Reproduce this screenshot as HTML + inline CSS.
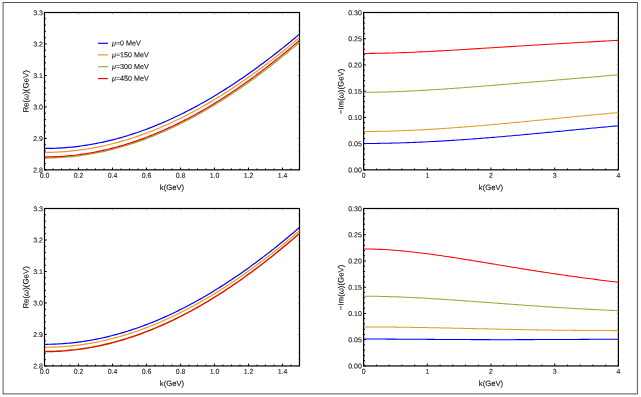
<!DOCTYPE html>
<html><head><meta charset="utf-8"><title>plots</title>
<style>html,body{margin:0;padding:0;background:#fff;}svg{display:block;will-change:transform;} text{text-rendering:geometricPrecision;stroke:#222;stroke-width:0.12px;}</style></head>
<body>
<svg width="641" height="397" viewBox="0 0 641 397" font-family="Liberation Sans, sans-serif">
<rect x="0" y="0" width="641" height="397" fill="#fff"/>
<rect x="3.1" y="2.5" width="634.3" height="391.4" fill="none" stroke="#555" stroke-width="1"/>
<clipPath id="c1"><rect x="45.05" y="12.5" width="255.05" height="157.0"/></clipPath>
<path d="M44.50,169.85v-2.3M53.00,169.85v-1.4M61.50,169.85v-1.4M70.00,169.85v-1.4M78.50,169.85v-2.3M87.00,169.85v-1.4M95.50,169.85v-1.4M104.00,169.85v-1.4M112.50,169.85v-2.3M121.00,169.85v-1.4M129.50,169.85v-1.4M138.00,169.85v-1.4M146.50,169.85v-2.3M155.00,169.85v-1.4M163.50,169.85v-1.4M172.00,169.85v-1.4M180.50,169.85v-2.3M189.00,169.85v-1.4M197.50,169.85v-1.4M206.00,169.85v-1.4M214.50,169.85v-2.3M223.00,169.85v-1.4M231.50,169.85v-1.4M240.00,169.85v-1.4M248.50,169.85v-2.3M257.00,169.85v-1.4M265.50,169.85v-1.4M274.00,169.85v-1.4M282.50,169.85v-2.3M291.00,169.85v-1.4M299.50,169.85v-1.4M44.5,169.85h2.3M44.5,163.56h1.4M44.5,157.26h1.4M44.5,150.97h1.4M44.5,144.67h1.4M44.5,138.38h2.3M44.5,132.09h1.4M44.5,125.79h1.4M44.5,119.50h1.4M44.5,113.20h1.4M44.5,106.91h2.3M44.5,100.62h1.4M44.5,94.32h1.4M44.5,88.03h1.4M44.5,81.73h1.4M44.5,75.44h2.3M44.5,69.15h1.4M44.5,62.85h1.4M44.5,56.56h1.4M44.5,50.26h1.4M44.5,43.97h2.3M44.5,37.68h1.4M44.5,31.38h1.4M44.5,25.09h1.4M44.5,18.79h1.4M44.5,12.50h2.3" stroke="#000" stroke-width="1.0" fill="none"/>
<path d="M44.50,12.5v1.7249999999999999M53.00,12.5v1.0499999999999998M61.50,12.5v1.0499999999999998M70.00,12.5v1.0499999999999998M78.50,12.5v1.7249999999999999M87.00,12.5v1.0499999999999998M95.50,12.5v1.0499999999999998M104.00,12.5v1.0499999999999998M112.50,12.5v1.7249999999999999M121.00,12.5v1.0499999999999998M129.50,12.5v1.0499999999999998M138.00,12.5v1.0499999999999998M146.50,12.5v1.7249999999999999M155.00,12.5v1.0499999999999998M163.50,12.5v1.0499999999999998M172.00,12.5v1.0499999999999998M180.50,12.5v1.7249999999999999M189.00,12.5v1.0499999999999998M197.50,12.5v1.0499999999999998M206.00,12.5v1.0499999999999998M214.50,12.5v1.7249999999999999M223.00,12.5v1.0499999999999998M231.50,12.5v1.0499999999999998M240.00,12.5v1.0499999999999998M248.50,12.5v1.7249999999999999M257.00,12.5v1.0499999999999998M265.50,12.5v1.0499999999999998M274.00,12.5v1.0499999999999998M282.50,12.5v1.7249999999999999M291.00,12.5v1.0499999999999998M299.50,12.5v1.0499999999999998M299.5,169.85h-1.7249999999999999M299.5,163.56h-1.0499999999999998M299.5,157.26h-1.0499999999999998M299.5,150.97h-1.0499999999999998M299.5,144.67h-1.0499999999999998M299.5,138.38h-1.7249999999999999M299.5,132.09h-1.0499999999999998M299.5,125.79h-1.0499999999999998M299.5,119.50h-1.0499999999999998M299.5,113.20h-1.0499999999999998M299.5,106.91h-1.7249999999999999M299.5,100.62h-1.0499999999999998M299.5,94.32h-1.0499999999999998M299.5,88.03h-1.0499999999999998M299.5,81.73h-1.0499999999999998M299.5,75.44h-1.7249999999999999M299.5,69.15h-1.0499999999999998M299.5,62.85h-1.0499999999999998M299.5,56.56h-1.0499999999999998M299.5,50.26h-1.0499999999999998M299.5,43.97h-1.7249999999999999M299.5,37.68h-1.0499999999999998M299.5,31.38h-1.0499999999999998M299.5,25.09h-1.0499999999999998M299.5,18.79h-1.0499999999999998M299.5,12.50h-1.7249999999999999" stroke="#000" stroke-opacity="0.35" stroke-width="0.8" fill="none"/>
<rect x="44.5" y="12.5" width="255.0" height="157.35" fill="none" stroke="#000" stroke-width="1.2"/>
<g clip-path="url(#c1)" fill="none" stroke-width="1.2" stroke-linejoin="round">
<polyline stroke="#0000ff" points="44.50,148.46 46.62,148.45 48.75,148.43 50.88,148.39 53.00,148.33 55.12,148.25 57.25,148.16 59.38,148.05 61.50,147.92 63.62,147.78 65.75,147.62 67.88,147.44 70.00,147.25 72.12,147.04 74.25,146.81 76.38,146.56 78.50,146.30 80.62,146.02 82.75,145.73 84.88,145.42 87.00,145.09 89.12,144.75 91.25,144.38 93.38,144.01 95.50,143.61 97.62,143.20 99.75,142.77 101.88,142.33 104.00,141.87 106.12,141.39 108.25,140.89 110.38,140.38 112.50,139.86 114.62,139.31 116.75,138.75 118.88,138.18 121.00,137.58 123.12,136.97 125.25,136.35 127.38,135.71 129.50,135.05 131.62,134.38 133.75,133.69 135.88,132.98 138.00,132.26 140.12,131.52 142.25,130.77 144.38,130.00 146.50,129.21 148.62,128.41 150.75,127.59 152.88,126.76 155.00,125.91 157.12,125.04 159.25,124.16 161.38,123.27 163.50,122.36 165.62,121.43 167.75,120.49 169.88,119.53 172.00,118.56 174.12,117.57 176.25,116.56 178.38,115.54 180.50,114.51 182.62,113.46 184.75,112.40 186.88,111.32 189.00,110.22 191.12,109.11 193.25,107.99 195.38,106.85 197.50,105.70 199.63,104.53 201.75,103.35 203.88,102.15 206.00,100.94 208.12,99.71 210.25,98.47 212.38,97.21 214.50,95.94 216.62,94.66 218.75,93.36 220.88,92.05 223.00,90.72 225.12,89.38 227.25,88.03 229.38,86.66 231.50,85.28 233.62,83.88 235.75,82.47 237.88,81.05 240.00,79.61 242.13,78.16 244.25,76.70 246.38,75.22 248.50,73.73 250.63,72.23 252.75,70.71 254.88,69.18 257.00,67.64 259.12,66.08 261.25,64.51 263.38,62.93 265.50,61.34 267.62,59.73 269.75,58.11 271.88,56.47 274.00,54.83 276.12,53.17 278.25,51.50 280.38,49.81 282.50,48.12 284.62,46.41 286.75,44.69 288.88,42.96 291.00,41.21 293.12,39.46 295.25,37.69 297.38,35.91 299.50,34.11"/>
<polyline stroke="#e39c24" points="44.50,152.39 46.62,152.38 48.75,152.35 50.88,152.31 53.00,152.25 55.12,152.17 57.25,152.08 59.38,151.97 61.50,151.84 63.62,151.70 65.75,151.54 67.88,151.36 70.00,151.17 72.12,150.95 74.25,150.72 76.38,150.48 78.50,150.22 80.62,149.94 82.75,149.64 84.88,149.33 87.00,149.00 89.12,148.65 91.25,148.29 93.38,147.91 95.50,147.51 97.62,147.10 99.75,146.67 101.88,146.22 104.00,145.75 106.12,145.27 108.25,144.78 110.38,144.26 112.50,143.73 114.62,143.19 116.75,142.62 118.88,142.05 121.00,141.45 123.12,140.84 125.25,140.21 127.38,139.56 129.50,138.90 131.62,138.23 133.75,137.53 135.88,136.82 138.00,136.10 140.12,135.36 142.25,134.60 144.38,133.82 146.50,133.03 148.62,132.23 150.75,131.41 152.88,130.57 155.00,129.71 157.12,128.85 159.25,127.96 161.38,127.06 163.50,126.14 165.62,125.21 167.75,124.27 169.88,123.30 172.00,122.32 174.12,121.33 176.25,120.32 178.38,119.30 180.50,118.26 182.62,117.20 184.75,116.13 186.88,115.05 189.00,113.95 191.12,112.84 193.25,111.71 195.38,110.56 197.50,109.40 199.63,108.23 201.75,107.04 203.88,105.84 206.00,104.62 208.12,103.38 210.25,102.14 212.38,100.88 214.50,99.60 216.62,98.31 218.75,97.01 220.88,95.69 223.00,94.35 225.12,93.01 227.25,91.65 229.38,90.27 231.50,88.88 233.62,87.48 235.75,86.07 237.88,84.64 240.00,83.19 242.13,81.73 244.25,80.26 246.38,78.78 248.50,77.28 250.63,75.77 252.75,74.25 254.88,72.71 257.00,71.16 259.12,69.60 261.25,68.02 263.38,66.43 265.50,64.83 267.62,63.21 269.75,61.58 271.88,59.94 274.00,58.29 276.12,56.62 278.25,54.95 280.38,53.25 282.50,51.55 284.62,49.84 286.75,48.11 288.88,46.37 291.00,44.61 293.12,42.85 295.25,41.07 297.38,39.29 299.50,37.48"/>
<polyline stroke="#8fb032" points="44.50,158.04 46.62,158.03 48.75,158.00 50.88,157.96 53.00,157.90 55.12,157.83 57.25,157.73 59.38,157.62 61.50,157.49 63.62,157.35 65.75,157.18 67.88,157.01 70.00,156.81 72.12,156.60 74.25,156.37 76.38,156.12 78.50,155.85 80.62,155.57 82.75,155.27 84.88,154.96 87.00,154.63 89.12,154.28 91.25,153.91 93.38,153.53 95.50,153.13 97.62,152.71 99.75,152.28 101.88,151.83 104.00,151.37 106.12,150.88 108.25,150.38 110.38,149.87 112.50,149.33 114.62,148.78 116.75,148.22 118.88,147.63 121.00,147.03 123.12,146.42 125.25,145.78 127.38,145.14 129.50,144.47 131.62,143.79 133.75,143.09 135.88,142.38 138.00,141.65 140.12,140.90 142.25,140.14 144.38,139.36 146.50,138.57 148.62,137.75 150.75,136.93 152.88,136.08 155.00,135.23 157.12,134.35 159.25,133.46 161.38,132.56 163.50,131.63 165.62,130.70 167.75,129.74 169.88,128.78 172.00,127.79 174.12,126.79 176.25,125.78 178.38,124.75 180.50,123.70 182.62,122.64 184.75,121.57 186.88,120.47 189.00,119.37 191.12,118.25 193.25,117.11 195.38,115.96 197.50,114.79 199.63,113.61 201.75,112.42 203.88,111.21 206.00,109.98 208.12,108.74 210.25,107.49 212.38,106.22 214.50,104.94 216.62,103.64 218.75,102.33 220.88,101.00 223.00,99.66 225.12,98.31 227.25,96.94 229.38,95.56 231.50,94.16 233.62,92.75 235.75,91.33 237.88,89.89 240.00,88.44 242.13,86.97 244.25,85.49 246.38,84.00 248.50,82.50 250.63,80.98 252.75,79.44 254.88,77.90 257.00,76.34 259.12,74.77 261.25,73.18 263.38,71.58 265.50,69.97 267.62,68.35 269.75,66.71 271.88,65.06 274.00,63.40 276.12,61.73 278.25,60.04 280.38,58.34 282.50,56.63 284.62,54.90 286.75,53.17 288.88,51.42 291.00,49.66 293.12,47.88 295.25,46.10 297.38,44.30 299.50,42.49"/>
<polyline stroke="#ff0000" points="44.50,156.94 46.62,156.93 48.75,156.91 50.88,156.86 53.00,156.80 55.12,156.72 57.25,156.63 59.38,156.52 61.50,156.39 63.62,156.24 65.75,156.08 67.88,155.90 70.00,155.70 72.12,155.48 74.25,155.25 76.38,155.00 78.50,154.74 80.62,154.45 82.75,154.15 84.88,153.83 87.00,153.50 89.12,153.15 91.25,152.78 93.38,152.39 95.50,151.99 97.62,151.57 99.75,151.13 101.88,150.68 104.00,150.21 106.12,149.72 108.25,149.22 110.38,148.69 112.50,148.16 114.62,147.60 116.75,147.03 118.88,146.44 121.00,145.84 123.12,145.22 125.25,144.58 127.38,143.92 129.50,143.25 131.62,142.56 133.75,141.86 135.88,141.14 138.00,140.40 140.12,139.65 142.25,138.88 144.38,138.10 146.50,137.29 148.62,136.48 150.75,135.64 152.88,134.79 155.00,133.93 157.12,133.05 159.25,132.15 161.38,131.23 163.50,130.30 165.62,129.36 167.75,128.40 169.88,127.42 172.00,126.43 174.12,125.42 176.25,124.40 178.38,123.36 180.50,122.30 182.62,121.23 184.75,120.15 186.88,119.05 189.00,117.93 191.12,116.80 193.25,115.66 195.38,114.49 197.50,113.32 199.63,112.13 201.75,110.92 203.88,109.70 206.00,108.47 208.12,107.22 210.25,105.95 212.38,104.67 214.50,103.38 216.62,102.07 218.75,100.75 220.88,99.41 223.00,98.06 225.12,96.69 227.25,95.31 229.38,93.92 231.50,92.51 233.62,91.09 235.75,89.65 237.88,88.20 240.00,86.74 242.13,85.26 244.25,83.77 246.38,82.27 248.50,80.75 250.63,79.22 252.75,77.67 254.88,76.11 257.00,74.54 259.12,72.96 261.25,71.36 263.38,69.75 265.50,68.12 267.62,66.49 269.75,64.84 271.88,63.17 274.00,61.50 276.12,59.81 278.25,58.11 280.38,56.40 282.50,54.67 284.62,52.93 286.75,51.18 288.88,49.42 291.00,47.64 293.12,45.85 295.25,44.05 297.38,42.24 299.50,40.42"/>
</g>
<g font-size="7.0" fill="#1a1a1a">
<text x="44.50" y="177.75" transform="rotate(0.05 44.50 177.75)" text-anchor="middle">0.0</text>
<text x="78.50" y="177.75" transform="rotate(0.05 78.50 177.75)" text-anchor="middle">0.2</text>
<text x="112.50" y="177.75" transform="rotate(0.05 112.50 177.75)" text-anchor="middle">0.4</text>
<text x="146.50" y="177.75" transform="rotate(0.05 146.50 177.75)" text-anchor="middle">0.6</text>
<text x="180.50" y="177.75" transform="rotate(0.05 180.50 177.75)" text-anchor="middle">0.8</text>
<text x="214.50" y="177.75" transform="rotate(0.05 214.50 177.75)" text-anchor="middle">1.0</text>
<text x="248.50" y="177.75" transform="rotate(0.05 248.50 177.75)" text-anchor="middle">1.2</text>
<text x="282.50" y="177.75" transform="rotate(0.05 282.50 177.75)" text-anchor="middle">1.4</text>
<text x="42.90" y="172.50" transform="rotate(0.05 42.90 172.50)" text-anchor="end">2.8</text>
<text x="42.90" y="141.03" transform="rotate(0.05 42.90 141.03)" text-anchor="end">2.9</text>
<text x="42.90" y="109.56" transform="rotate(0.05 42.90 109.56)" text-anchor="end">3.0</text>
<text x="42.90" y="78.09" transform="rotate(0.05 42.90 78.09)" text-anchor="end">3.1</text>
<text x="42.90" y="46.62" transform="rotate(0.05 42.90 46.62)" text-anchor="end">3.2</text>
<text x="42.90" y="15.15" transform="rotate(0.05 42.90 15.15)" text-anchor="end">3.3</text>
</g>
<text x="172.00" y="189.90" transform="rotate(0.05 172.00 189.90)" text-anchor="middle" font-size="7.7" fill="#111">k(GeV)</text>
<text transform="translate(28.5,91.40) rotate(-89.95)" text-anchor="middle" font-size="7.85" fill="#111">Re(<tspan font-style="italic">ω</tspan>)(GeV)</text>
<clipPath id="c2"><rect x="364.2" y="12.5" width="254.8" height="157.0"/></clipPath>
<path d="M363.65,169.85v-2.3M376.39,169.85v-1.4M389.12,169.85v-1.4M401.86,169.85v-1.4M414.60,169.85v-1.4M427.34,169.85v-2.3M440.07,169.85v-1.4M452.81,169.85v-1.4M465.55,169.85v-1.4M478.29,169.85v-1.4M491.02,169.85v-2.3M503.76,169.85v-1.4M516.50,169.85v-1.4M529.24,169.85v-1.4M541.98,169.85v-1.4M554.71,169.85v-2.3M567.45,169.85v-1.4M580.19,169.85v-1.4M592.92,169.85v-1.4M605.66,169.85v-1.4M618.40,169.85v-2.3M363.65,169.85h2.3M363.65,164.60h1.4M363.65,159.36h1.4M363.65,154.12h1.4M363.65,148.87h1.4M363.65,143.62h2.3M363.65,138.38h1.4M363.65,133.13h1.4M363.65,127.89h1.4M363.65,122.64h1.4M363.65,117.40h2.3M363.65,112.16h1.4M363.65,106.91h1.4M363.65,101.66h1.4M363.65,96.42h1.4M363.65,91.17h2.3M363.65,85.93h1.4M363.65,80.68h1.4M363.65,75.44h1.4M363.65,70.19h1.4M363.65,64.95h2.3M363.65,59.70h1.4M363.65,54.46h1.4M363.65,49.21h1.4M363.65,43.97h1.4M363.65,38.72h2.3M363.65,33.48h1.4M363.65,28.23h1.4M363.65,22.99h1.4M363.65,17.75h1.4M363.65,12.50h2.3" stroke="#000" stroke-width="1.0" fill="none"/>
<path d="M363.65,12.5v1.7249999999999999M376.39,12.5v1.0499999999999998M389.12,12.5v1.0499999999999998M401.86,12.5v1.0499999999999998M414.60,12.5v1.0499999999999998M427.34,12.5v1.7249999999999999M440.07,12.5v1.0499999999999998M452.81,12.5v1.0499999999999998M465.55,12.5v1.0499999999999998M478.29,12.5v1.0499999999999998M491.02,12.5v1.7249999999999999M503.76,12.5v1.0499999999999998M516.50,12.5v1.0499999999999998M529.24,12.5v1.0499999999999998M541.98,12.5v1.0499999999999998M554.71,12.5v1.7249999999999999M567.45,12.5v1.0499999999999998M580.19,12.5v1.0499999999999998M592.92,12.5v1.0499999999999998M605.66,12.5v1.0499999999999998M618.40,12.5v1.7249999999999999M618.4,169.85h-1.7249999999999999M618.4,164.60h-1.0499999999999998M618.4,159.36h-1.0499999999999998M618.4,154.12h-1.0499999999999998M618.4,148.87h-1.0499999999999998M618.4,143.62h-1.7249999999999999M618.4,138.38h-1.0499999999999998M618.4,133.13h-1.0499999999999998M618.4,127.89h-1.0499999999999998M618.4,122.64h-1.0499999999999998M618.4,117.40h-1.7249999999999999M618.4,112.16h-1.0499999999999998M618.4,106.91h-1.0499999999999998M618.4,101.66h-1.0499999999999998M618.4,96.42h-1.0499999999999998M618.4,91.17h-1.7249999999999999M618.4,85.93h-1.0499999999999998M618.4,80.68h-1.0499999999999998M618.4,75.44h-1.0499999999999998M618.4,70.19h-1.0499999999999998M618.4,64.95h-1.7249999999999999M618.4,59.70h-1.0499999999999998M618.4,54.46h-1.0499999999999998M618.4,49.21h-1.0499999999999998M618.4,43.97h-1.0499999999999998M618.4,38.72h-1.7249999999999999M618.4,33.48h-1.0499999999999998M618.4,28.23h-1.0499999999999998M618.4,22.99h-1.0499999999999998M618.4,17.75h-1.0499999999999998M618.4,12.50h-1.7249999999999999" stroke="#000" stroke-opacity="0.35" stroke-width="0.8" fill="none"/>
<rect x="363.65" y="12.5" width="254.75" height="157.35" fill="none" stroke="#000" stroke-width="1.2"/>
<g clip-path="url(#c2)" fill="none" stroke-width="1.05" stroke-linejoin="round">
<polyline stroke="#0000ff" points="363.65,143.47 365.77,143.47 367.90,143.46 370.02,143.45 372.14,143.44 374.26,143.42 376.39,143.40 378.51,143.37 380.63,143.34 382.76,143.31 384.88,143.27 387.00,143.23 389.12,143.19 391.25,143.14 393.37,143.09 395.49,143.03 397.62,142.98 399.74,142.91 401.86,142.85 403.99,142.78 406.11,142.71 408.23,142.63 410.35,142.56 412.48,142.47 414.60,142.39 416.72,142.30 418.85,142.21 420.97,142.12 423.09,142.02 425.21,141.92 427.34,141.81 429.46,141.71 431.58,141.60 433.71,141.49 435.83,141.37 437.95,141.25 440.07,141.13 442.20,141.01 444.32,140.89 446.44,140.76 448.57,140.63 450.69,140.49 452.81,140.36 454.94,140.22 457.06,140.08 459.18,139.94 461.30,139.79 463.43,139.64 465.55,139.49 467.67,139.34 469.80,139.19 471.92,139.03 474.04,138.87 476.16,138.71 478.29,138.55 480.41,138.39 482.53,138.22 484.66,138.05 486.78,137.88 488.90,137.71 491.02,137.54 493.15,137.36 495.27,137.19 497.39,137.01 499.52,136.83 501.64,136.65 503.76,136.47 505.89,136.28 508.01,136.10 510.13,135.91 512.25,135.72 514.38,135.53 516.50,135.34 518.62,135.15 520.75,134.96 522.87,134.76 524.99,134.57 527.11,134.37 529.24,134.18 531.36,133.98 533.48,133.78 535.61,133.58 537.73,133.38 539.85,133.18 541.97,132.98 544.10,132.78 546.22,132.58 548.34,132.38 550.47,132.17 552.59,131.97 554.71,131.77 556.84,131.56 558.96,131.36 561.08,131.16 563.20,130.95 565.33,130.75 567.45,130.54 569.57,130.34 571.70,130.13 573.82,129.93 575.94,129.72 578.06,129.52 580.19,129.32 582.31,129.11 584.43,128.91 586.56,128.71 588.68,128.51 590.80,128.31 592.92,128.10 595.05,127.90 597.17,127.71 599.29,127.51 601.42,127.31 603.54,127.11 605.66,126.91 607.79,126.72 609.91,126.53 612.03,126.33 614.15,126.14 616.28,125.95 618.40,125.76"/>
<polyline stroke="#e39c24" points="363.65,131.46 365.77,131.46 367.90,131.45 370.02,131.44 372.14,131.42 374.26,131.40 376.39,131.37 378.51,131.34 380.63,131.31 382.76,131.27 384.88,131.22 387.00,131.17 389.12,131.12 391.25,131.06 393.37,131.00 395.49,130.94 397.62,130.87 399.74,130.79 401.86,130.72 403.99,130.64 406.11,130.55 408.23,130.46 410.35,130.37 412.48,130.27 414.60,130.18 416.72,130.07 418.85,129.97 420.97,129.86 423.09,129.74 425.21,129.63 427.34,129.51 429.46,129.39 431.58,129.26 433.71,129.13 435.83,129.00 437.95,128.87 440.07,128.73 442.20,128.59 444.32,128.45 446.44,128.30 448.57,128.15 450.69,128.00 452.81,127.85 454.94,127.69 457.06,127.54 459.18,127.38 461.30,127.21 463.43,127.05 465.55,126.88 467.67,126.71 469.80,126.54 471.92,126.37 474.04,126.20 476.16,126.02 478.29,125.84 480.41,125.66 482.53,125.48 484.66,125.30 486.78,125.11 488.90,124.92 491.02,124.74 493.15,124.55 495.27,124.36 497.39,124.16 499.52,123.97 501.64,123.77 503.76,123.58 505.89,123.38 508.01,123.18 510.13,122.98 512.25,122.78 514.38,122.58 516.50,122.38 518.62,122.18 520.75,121.97 522.87,121.77 524.99,121.56 527.11,121.36 529.24,121.15 531.36,120.94 533.48,120.74 535.61,120.53 537.73,120.32 539.85,120.11 541.97,119.90 544.10,119.69 546.22,119.48 548.34,119.28 550.47,119.07 552.59,118.86 554.71,118.65 556.84,118.44 558.96,118.23 561.08,118.02 563.20,117.81 565.33,117.60 567.45,117.39 569.57,117.18 571.70,116.97 573.82,116.77 575.94,116.56 578.06,116.35 580.19,116.15 582.31,115.94 584.43,115.73 586.56,115.53 588.68,115.33 590.80,115.12 592.92,114.92 595.05,114.72 597.17,114.52 599.29,114.32 601.42,114.12 603.54,113.92 605.66,113.73 607.79,113.53 609.91,113.33 612.03,113.14 614.15,112.95 616.28,112.76 618.40,112.57"/>
<polyline stroke="#8fb032" points="363.65,92.26 365.77,92.26 367.90,92.25 370.02,92.23 372.14,92.21 374.26,92.19 376.39,92.16 378.51,92.12 380.63,92.08 382.76,92.03 384.88,91.98 387.00,91.92 389.12,91.86 391.25,91.80 393.37,91.73 395.49,91.65 397.62,91.58 399.74,91.49 401.86,91.41 403.99,91.32 406.11,91.23 408.23,91.13 410.35,91.03 412.48,90.92 414.60,90.82 416.72,90.71 418.85,90.59 420.97,90.48 423.09,90.36 425.21,90.23 427.34,90.11 429.46,89.98 431.58,89.85 433.71,89.72 435.83,89.58 437.95,89.44 440.07,89.31 442.20,89.16 444.32,89.02 446.44,88.87 448.57,88.73 450.69,88.58 452.81,88.43 454.94,88.27 457.06,88.12 459.18,87.96 461.30,87.80 463.43,87.65 465.55,87.49 467.67,87.32 469.80,87.16 471.92,87.00 474.04,86.83 476.16,86.67 478.29,86.50 480.41,86.33 482.53,86.16 484.66,85.99 486.78,85.82 488.90,85.65 491.02,85.48 493.15,85.31 495.27,85.14 497.39,84.96 499.52,84.79 501.64,84.61 503.76,84.44 505.89,84.26 508.01,84.09 510.13,83.91 512.25,83.74 514.38,83.56 516.50,83.38 518.62,83.21 520.75,83.03 522.87,82.85 524.99,82.67 527.11,82.50 529.24,82.32 531.36,82.14 533.48,81.96 535.61,81.79 537.73,81.61 539.85,81.43 541.97,81.25 544.10,81.07 546.22,80.90 548.34,80.72 550.47,80.54 552.59,80.36 554.71,80.18 556.84,80.01 558.96,79.83 561.08,79.65 563.20,79.47 565.33,79.29 567.45,79.12 569.57,78.94 571.70,78.76 573.82,78.58 575.94,78.40 578.06,78.22 580.19,78.05 582.31,77.87 584.43,77.69 586.56,77.51 588.68,77.33 590.80,77.15 592.92,76.97 595.05,76.79 597.17,76.61 599.29,76.43 601.42,76.25 603.54,76.07 605.66,75.89 607.79,75.70 609.91,75.52 612.03,75.34 614.15,75.15 616.28,74.97 618.40,74.78"/>
<polyline stroke="#ff0000" points="363.65,53.44 365.77,53.43 367.90,53.42 370.02,53.41 372.14,53.39 374.26,53.37 376.39,53.34 378.51,53.31 380.63,53.27 382.76,53.23 384.88,53.19 387.00,53.14 389.12,53.08 391.25,53.03 393.37,52.96 395.49,52.90 397.62,52.83 399.74,52.76 401.86,52.69 403.99,52.61 406.11,52.53 408.23,52.44 410.35,52.35 412.48,52.27 414.60,52.17 416.72,52.08 418.85,51.98 420.97,51.88 423.09,51.78 425.21,51.68 427.34,51.57 429.46,51.46 431.58,51.35 433.71,51.24 435.83,51.13 437.95,51.01 440.07,50.89 442.20,50.78 444.32,50.66 446.44,50.54 448.57,50.41 450.69,50.29 452.81,50.17 454.94,50.04 457.06,49.91 459.18,49.79 461.30,49.66 463.43,49.53 465.55,49.40 467.67,49.27 469.80,49.14 471.92,49.01 474.04,48.88 476.16,48.75 478.29,48.61 480.41,48.48 482.53,48.35 484.66,48.22 486.78,48.08 488.90,47.95 491.02,47.82 493.15,47.68 495.27,47.55 497.39,47.42 499.52,47.28 501.64,47.15 503.76,47.02 505.89,46.89 508.01,46.75 510.13,46.62 512.25,46.49 514.38,46.36 516.50,46.23 518.62,46.09 520.75,45.96 522.87,45.83 524.99,45.70 527.11,45.57 529.24,45.44 531.36,45.32 533.48,45.19 535.61,45.06 537.73,44.93 539.85,44.80 541.97,44.68 544.10,44.55 546.22,44.43 548.34,44.30 550.47,44.18 552.59,44.05 554.71,43.93 556.84,43.80 558.96,43.68 561.08,43.56 563.20,43.43 565.33,43.31 567.45,43.19 569.57,43.07 571.70,42.95 573.82,42.83 575.94,42.71 578.06,42.58 580.19,42.46 582.31,42.34 584.43,42.22 586.56,42.10 588.68,41.98 590.80,41.86 592.92,41.74 595.05,41.62 597.17,41.50 599.29,41.38 601.42,41.26 603.54,41.14 605.66,41.02 607.79,40.90 609.91,40.78 612.03,40.65 614.15,40.53 616.28,40.41 618.40,40.28"/>
</g>
<g font-size="7.0" fill="#1a1a1a">
<text x="363.65" y="177.75" transform="rotate(0.05 363.65 177.75)" text-anchor="middle">0</text>
<text x="427.34" y="177.75" transform="rotate(0.05 427.34 177.75)" text-anchor="middle">1</text>
<text x="491.02" y="177.75" transform="rotate(0.05 491.02 177.75)" text-anchor="middle">2</text>
<text x="554.71" y="177.75" transform="rotate(0.05 554.71 177.75)" text-anchor="middle">3</text>
<text x="618.40" y="177.75" transform="rotate(0.05 618.40 177.75)" text-anchor="middle">4</text>
<text x="361.80" y="172.50" transform="rotate(0.05 361.80 172.50)" text-anchor="end">0.00</text>
<text x="361.80" y="146.28" transform="rotate(0.05 361.80 146.28)" text-anchor="end">0.05</text>
<text x="361.80" y="120.05" transform="rotate(0.05 361.80 120.05)" text-anchor="end">0.10</text>
<text x="361.80" y="93.82" transform="rotate(0.05 361.80 93.82)" text-anchor="end">0.15</text>
<text x="361.80" y="67.60" transform="rotate(0.05 361.80 67.60)" text-anchor="end">0.20</text>
<text x="361.80" y="41.37" transform="rotate(0.05 361.80 41.37)" text-anchor="end">0.25</text>
<text x="361.80" y="15.15" transform="rotate(0.05 361.80 15.15)" text-anchor="end">0.30</text>
</g>
<text x="491.02" y="189.90" transform="rotate(0.05 491.02 189.90)" text-anchor="middle" font-size="7.7" fill="#111">k(GeV)</text>
<text transform="translate(343.4,91.40) rotate(-89.95)" text-anchor="middle" font-size="7.85" fill="#111">−Im(<tspan font-style="italic">ω</tspan>)(GeV)</text>
<clipPath id="c3"><rect x="45.05" y="208.5" width="255.05" height="157.0"/></clipPath>
<path d="M44.50,365.95v-2.3M53.00,365.95v-1.4M61.50,365.95v-1.4M70.00,365.95v-1.4M78.50,365.95v-2.3M87.00,365.95v-1.4M95.50,365.95v-1.4M104.00,365.95v-1.4M112.50,365.95v-2.3M121.00,365.95v-1.4M129.50,365.95v-1.4M138.00,365.95v-1.4M146.50,365.95v-2.3M155.00,365.95v-1.4M163.50,365.95v-1.4M172.00,365.95v-1.4M180.50,365.95v-2.3M189.00,365.95v-1.4M197.50,365.95v-1.4M206.00,365.95v-1.4M214.50,365.95v-2.3M223.00,365.95v-1.4M231.50,365.95v-1.4M240.00,365.95v-1.4M248.50,365.95v-2.3M257.00,365.95v-1.4M265.50,365.95v-1.4M274.00,365.95v-1.4M282.50,365.95v-2.3M291.00,365.95v-1.4M299.50,365.95v-1.4M44.5,365.95h2.3M44.5,359.65h1.4M44.5,353.35h1.4M44.5,347.06h1.4M44.5,340.76h1.4M44.5,334.46h2.3M44.5,328.16h1.4M44.5,321.86h1.4M44.5,315.57h1.4M44.5,309.27h1.4M44.5,302.97h2.3M44.5,296.67h1.4M44.5,290.37h1.4M44.5,284.08h1.4M44.5,277.78h1.4M44.5,271.48h2.3M44.5,265.18h1.4M44.5,258.88h1.4M44.5,252.59h1.4M44.5,246.29h1.4M44.5,239.99h2.3M44.5,233.69h1.4M44.5,227.39h1.4M44.5,221.10h1.4M44.5,214.80h1.4M44.5,208.50h2.3" stroke="#000" stroke-width="1.0" fill="none"/>
<path d="M44.50,208.5v1.7249999999999999M53.00,208.5v1.0499999999999998M61.50,208.5v1.0499999999999998M70.00,208.5v1.0499999999999998M78.50,208.5v1.7249999999999999M87.00,208.5v1.0499999999999998M95.50,208.5v1.0499999999999998M104.00,208.5v1.0499999999999998M112.50,208.5v1.7249999999999999M121.00,208.5v1.0499999999999998M129.50,208.5v1.0499999999999998M138.00,208.5v1.0499999999999998M146.50,208.5v1.7249999999999999M155.00,208.5v1.0499999999999998M163.50,208.5v1.0499999999999998M172.00,208.5v1.0499999999999998M180.50,208.5v1.7249999999999999M189.00,208.5v1.0499999999999998M197.50,208.5v1.0499999999999998M206.00,208.5v1.0499999999999998M214.50,208.5v1.7249999999999999M223.00,208.5v1.0499999999999998M231.50,208.5v1.0499999999999998M240.00,208.5v1.0499999999999998M248.50,208.5v1.7249999999999999M257.00,208.5v1.0499999999999998M265.50,208.5v1.0499999999999998M274.00,208.5v1.0499999999999998M282.50,208.5v1.7249999999999999M291.00,208.5v1.0499999999999998M299.50,208.5v1.0499999999999998M299.5,365.95h-1.7249999999999999M299.5,359.65h-1.0499999999999998M299.5,353.35h-1.0499999999999998M299.5,347.06h-1.0499999999999998M299.5,340.76h-1.0499999999999998M299.5,334.46h-1.7249999999999999M299.5,328.16h-1.0499999999999998M299.5,321.86h-1.0499999999999998M299.5,315.57h-1.0499999999999998M299.5,309.27h-1.0499999999999998M299.5,302.97h-1.7249999999999999M299.5,296.67h-1.0499999999999998M299.5,290.37h-1.0499999999999998M299.5,284.08h-1.0499999999999998M299.5,277.78h-1.0499999999999998M299.5,271.48h-1.7249999999999999M299.5,265.18h-1.0499999999999998M299.5,258.88h-1.0499999999999998M299.5,252.59h-1.0499999999999998M299.5,246.29h-1.0499999999999998M299.5,239.99h-1.7249999999999999M299.5,233.69h-1.0499999999999998M299.5,227.39h-1.0499999999999998M299.5,221.10h-1.0499999999999998M299.5,214.80h-1.0499999999999998M299.5,208.50h-1.7249999999999999" stroke="#000" stroke-opacity="0.35" stroke-width="0.8" fill="none"/>
<rect x="44.5" y="208.5" width="255.0" height="157.45" fill="none" stroke="#000" stroke-width="1.2"/>
<g clip-path="url(#c3)" fill="none" stroke-width="1.2" stroke-linejoin="round">
<polyline stroke="#0000ff" points="44.50,344.30 46.62,344.30 48.75,344.27 50.88,344.23 53.00,344.17 55.12,344.09 57.25,343.99 59.38,343.88 61.50,343.75 63.62,343.61 65.75,343.44 67.88,343.26 70.00,343.06 72.12,342.85 74.25,342.61 76.38,342.36 78.50,342.10 80.62,341.81 82.75,341.51 84.88,341.19 87.00,340.86 89.12,340.50 91.25,340.13 93.38,339.75 95.50,339.34 97.62,338.92 99.75,338.48 101.88,338.03 104.00,337.56 106.12,337.07 108.25,336.56 110.38,336.04 112.50,335.50 114.62,334.94 116.75,334.37 118.88,333.78 121.00,333.18 123.12,332.55 125.25,331.91 127.38,331.26 129.50,330.58 131.62,329.90 133.75,329.19 135.88,328.47 138.00,327.73 140.12,326.97 142.25,326.20 144.38,325.42 146.50,324.61 148.62,323.79 150.75,322.96 152.88,322.10 155.00,321.24 157.12,320.35 159.25,319.45 161.38,318.54 163.50,317.60 165.62,316.66 167.75,315.69 169.88,314.71 172.00,313.72 174.12,312.71 176.25,311.68 178.38,310.64 180.50,309.58 182.62,308.51 184.75,307.42 186.88,306.32 189.00,305.20 191.12,304.07 193.25,302.92 195.38,301.75 197.50,300.57 199.63,299.38 201.75,298.17 203.88,296.95 206.00,295.71 208.12,294.46 210.25,293.19 212.38,291.90 214.50,290.61 216.62,289.30 218.75,287.97 220.88,286.63 223.00,285.27 225.12,283.90 227.25,282.52 229.38,281.12 231.50,279.71 233.62,278.28 235.75,276.84 237.88,275.39 240.00,273.92 242.13,272.44 244.25,270.95 246.38,269.44 248.50,267.91 250.63,266.38 252.75,264.83 254.88,263.27 257.00,261.69 259.12,260.10 261.25,258.50 263.38,256.88 265.50,255.25 267.62,253.61 269.75,251.96 271.88,250.29 274.00,248.61 276.12,246.91 278.25,245.21 280.38,243.49 282.50,241.76 284.62,240.01 286.75,238.26 288.88,236.49 291.00,234.71 293.12,232.92 295.25,231.11 297.38,229.29 299.50,227.46"/>
<polyline stroke="#e39c24" points="44.50,347.29 46.62,347.28 48.75,347.25 50.88,347.21 53.00,347.15 55.12,347.07 57.25,346.98 59.38,346.87 61.50,346.74 63.62,346.59 65.75,346.43 67.88,346.24 70.00,346.05 72.12,345.83 74.25,345.60 76.38,345.35 78.50,345.08 80.62,344.80 82.75,344.50 84.88,344.18 87.00,343.84 89.12,343.49 91.25,343.12 93.38,342.74 95.50,342.33 97.62,341.91 99.75,341.48 101.88,341.02 104.00,340.55 106.12,340.06 108.25,339.56 110.38,339.04 112.50,338.50 114.62,337.94 116.75,337.37 118.88,336.78 121.00,336.18 123.12,335.56 125.25,334.92 127.38,334.26 129.50,333.59 131.62,332.90 133.75,332.20 135.88,331.48 138.00,330.74 140.12,329.99 142.25,329.22 144.38,328.43 146.50,327.63 148.62,326.81 150.75,325.98 152.88,325.12 155.00,324.26 157.12,323.38 159.25,322.48 161.38,321.56 163.50,320.63 165.62,319.69 167.75,318.72 169.88,317.75 172.00,316.75 174.12,315.74 176.25,314.72 178.38,313.68 180.50,312.62 182.62,311.55 184.75,310.47 186.88,309.37 189.00,308.25 191.12,307.12 193.25,305.97 195.38,304.81 197.50,303.63 199.63,302.44 201.75,301.23 203.88,300.01 206.00,298.77 208.12,297.52 210.25,296.26 212.38,294.98 214.50,293.68 216.62,292.37 218.75,291.05 220.88,289.71 223.00,288.36 225.12,286.99 227.25,285.61 229.38,284.21 231.50,282.80 233.62,281.38 235.75,279.94 237.88,278.49 240.00,277.03 242.13,275.55 244.25,274.05 246.38,272.55 248.50,271.03 250.63,269.50 252.75,267.95 254.88,266.39 257.00,264.81 259.12,263.23 261.25,261.63 263.38,260.02 265.50,258.39 267.62,256.75 269.75,255.10 271.88,253.43 274.00,251.76 276.12,250.07 278.25,248.36 280.38,246.65 282.50,244.92 284.62,243.18 286.75,241.42 288.88,239.66 291.00,237.88 293.12,236.09 295.25,234.29 297.38,232.48 299.50,230.65"/>
<polyline stroke="#8fb032" points="44.50,351.21 46.62,351.20 48.75,351.18 50.88,351.13 53.00,351.07 55.12,351.00 57.25,350.90 59.38,350.79 61.50,350.66 63.62,350.51 65.75,350.34 67.88,350.16 70.00,349.96 72.12,349.74 74.25,349.51 76.38,349.26 78.50,348.99 80.62,348.70 82.75,348.40 84.88,348.08 87.00,347.74 89.12,347.38 91.25,347.01 93.38,346.62 95.50,346.21 97.62,345.79 99.75,345.35 101.88,344.89 104.00,344.41 106.12,343.92 108.25,343.41 110.38,342.88 112.50,342.34 114.62,341.78 116.75,341.20 118.88,340.61 121.00,340.00 123.12,339.37 125.25,338.73 127.38,338.07 129.50,337.39 131.62,336.69 133.75,335.98 135.88,335.26 138.00,334.51 140.12,333.75 142.25,332.97 144.38,332.18 146.50,331.37 148.62,330.55 150.75,329.70 152.88,328.85 155.00,327.97 157.12,327.08 159.25,326.17 161.38,325.25 163.50,324.31 165.62,323.36 167.75,322.39 169.88,321.40 172.00,320.40 174.12,319.38 176.25,318.35 178.38,317.30 180.50,316.23 182.62,315.15 184.75,314.06 186.88,312.95 189.00,311.82 191.12,310.68 193.25,309.52 195.38,308.35 197.50,307.16 199.63,305.96 201.75,304.74 203.88,303.51 206.00,302.26 208.12,301.00 210.25,299.72 212.38,298.43 214.50,297.12 216.62,295.80 218.75,294.47 220.88,293.12 223.00,291.75 225.12,290.37 227.25,288.98 229.38,287.57 231.50,286.15 233.62,284.72 235.75,283.27 237.88,281.80 240.00,280.33 242.13,278.84 244.25,277.33 246.38,275.81 248.50,274.28 250.63,272.73 252.75,271.17 254.88,269.60 257.00,268.01 259.12,266.41 261.25,264.80 263.38,263.17 265.50,261.54 267.62,259.88 269.75,258.22 271.88,256.54 274.00,254.85 276.12,253.14 278.25,251.43 280.38,249.70 282.50,247.96 284.62,246.20 286.75,244.43 288.88,242.65 291.00,240.86 293.12,239.06 295.25,237.24 297.38,235.41 299.50,233.57"/>
<polyline stroke="#ff0000" points="44.50,351.72 46.62,351.71 48.75,351.68 50.88,351.64 53.00,351.58 55.12,351.50 57.25,351.40 59.38,351.29 61.50,351.15 63.62,351.01 65.75,350.84 67.88,350.66 70.00,350.45 72.12,350.24 74.25,350.00 76.38,349.75 78.50,349.47 80.62,349.19 82.75,348.88 84.88,348.56 87.00,348.22 89.12,347.86 91.25,347.48 93.38,347.09 95.50,346.68 97.62,346.25 99.75,345.81 101.88,345.35 104.00,344.87 106.12,344.38 108.25,343.86 110.38,343.33 112.50,342.79 114.62,342.22 116.75,341.64 118.88,341.04 121.00,340.43 123.12,339.80 125.25,339.15 127.38,338.48 129.50,337.80 131.62,337.10 133.75,336.39 135.88,335.66 138.00,334.91 140.12,334.14 142.25,333.36 144.38,332.56 146.50,331.75 148.62,330.92 150.75,330.07 152.88,329.20 155.00,328.32 157.12,327.43 159.25,326.52 161.38,325.59 163.50,324.64 165.62,323.68 167.75,322.70 169.88,321.71 172.00,320.70 174.12,319.68 176.25,318.64 178.38,317.58 180.50,316.51 182.62,315.43 184.75,314.32 186.88,313.20 189.00,312.07 191.12,310.92 193.25,309.76 195.38,308.58 197.50,307.38 199.63,306.17 201.75,304.95 203.88,303.71 206.00,302.45 208.12,301.18 210.25,299.90 212.38,298.60 214.50,297.29 216.62,295.96 218.75,294.61 220.88,293.25 223.00,291.88 225.12,290.49 227.25,289.09 229.38,287.68 231.50,286.25 233.62,284.80 235.75,283.34 237.88,281.87 240.00,280.39 242.13,278.89 244.25,277.37 246.38,275.84 248.50,274.30 250.63,272.75 252.75,271.18 254.88,269.60 257.00,268.00 259.12,266.39 261.25,264.77 263.38,263.13 265.50,261.48 267.62,259.82 269.75,258.15 271.88,256.46 274.00,254.76 276.12,253.04 278.25,251.32 280.38,249.58 282.50,247.82 284.62,246.06 286.75,244.28 288.88,242.49 291.00,240.69 293.12,238.88 295.25,237.05 297.38,235.21 299.50,233.36"/>
</g>
<g font-size="7.0" fill="#1a1a1a">
<text x="44.50" y="373.75" transform="rotate(0.05 44.50 373.75)" text-anchor="middle">0.0</text>
<text x="78.50" y="373.75" transform="rotate(0.05 78.50 373.75)" text-anchor="middle">0.2</text>
<text x="112.50" y="373.75" transform="rotate(0.05 112.50 373.75)" text-anchor="middle">0.4</text>
<text x="146.50" y="373.75" transform="rotate(0.05 146.50 373.75)" text-anchor="middle">0.6</text>
<text x="180.50" y="373.75" transform="rotate(0.05 180.50 373.75)" text-anchor="middle">0.8</text>
<text x="214.50" y="373.75" transform="rotate(0.05 214.50 373.75)" text-anchor="middle">1.0</text>
<text x="248.50" y="373.75" transform="rotate(0.05 248.50 373.75)" text-anchor="middle">1.2</text>
<text x="282.50" y="373.75" transform="rotate(0.05 282.50 373.75)" text-anchor="middle">1.4</text>
<text x="42.90" y="368.60" transform="rotate(0.05 42.90 368.60)" text-anchor="end">2.8</text>
<text x="42.90" y="337.11" transform="rotate(0.05 42.90 337.11)" text-anchor="end">2.9</text>
<text x="42.90" y="305.62" transform="rotate(0.05 42.90 305.62)" text-anchor="end">3.0</text>
<text x="42.90" y="274.13" transform="rotate(0.05 42.90 274.13)" text-anchor="end">3.1</text>
<text x="42.90" y="242.64" transform="rotate(0.05 42.90 242.64)" text-anchor="end">3.2</text>
<text x="42.90" y="211.15" transform="rotate(0.05 42.90 211.15)" text-anchor="end">3.3</text>
</g>
<text x="172.00" y="385.90" transform="rotate(0.05 172.00 385.90)" text-anchor="middle" font-size="7.7" fill="#111">k(GeV)</text>
<text transform="translate(28.5,287.40) rotate(-89.95)" text-anchor="middle" font-size="7.85" fill="#111">Re(<tspan font-style="italic">ω</tspan>)(GeV)</text>
<clipPath id="c4"><rect x="364.2" y="208.5" width="254.8" height="157.0"/></clipPath>
<path d="M363.65,365.95v-2.3M376.39,365.95v-1.4M389.12,365.95v-1.4M401.86,365.95v-1.4M414.60,365.95v-1.4M427.34,365.95v-2.3M440.07,365.95v-1.4M452.81,365.95v-1.4M465.55,365.95v-1.4M478.29,365.95v-1.4M491.02,365.95v-2.3M503.76,365.95v-1.4M516.50,365.95v-1.4M529.24,365.95v-1.4M541.98,365.95v-1.4M554.71,365.95v-2.3M567.45,365.95v-1.4M580.19,365.95v-1.4M592.92,365.95v-1.4M605.66,365.95v-1.4M618.40,365.95v-2.3M363.65,365.95h2.3M363.65,360.70h1.4M363.65,355.45h1.4M363.65,350.20h1.4M363.65,344.96h1.4M363.65,339.71h2.3M363.65,334.46h1.4M363.65,329.21h1.4M363.65,323.96h1.4M363.65,318.71h1.4M363.65,313.47h2.3M363.65,308.22h1.4M363.65,302.97h1.4M363.65,297.72h1.4M363.65,292.47h1.4M363.65,287.22h2.3M363.65,281.98h1.4M363.65,276.73h1.4M363.65,271.48h1.4M363.65,266.23h1.4M363.65,260.98h2.3M363.65,255.73h1.4M363.65,250.49h1.4M363.65,245.24h1.4M363.65,239.99h1.4M363.65,234.74h2.3M363.65,229.49h1.4M363.65,224.24h1.4M363.65,219.00h1.4M363.65,213.75h1.4M363.65,208.50h2.3" stroke="#000" stroke-width="1.0" fill="none"/>
<path d="M363.65,208.5v1.7249999999999999M376.39,208.5v1.0499999999999998M389.12,208.5v1.0499999999999998M401.86,208.5v1.0499999999999998M414.60,208.5v1.0499999999999998M427.34,208.5v1.7249999999999999M440.07,208.5v1.0499999999999998M452.81,208.5v1.0499999999999998M465.55,208.5v1.0499999999999998M478.29,208.5v1.0499999999999998M491.02,208.5v1.7249999999999999M503.76,208.5v1.0499999999999998M516.50,208.5v1.0499999999999998M529.24,208.5v1.0499999999999998M541.98,208.5v1.0499999999999998M554.71,208.5v1.7249999999999999M567.45,208.5v1.0499999999999998M580.19,208.5v1.0499999999999998M592.92,208.5v1.0499999999999998M605.66,208.5v1.0499999999999998M618.40,208.5v1.7249999999999999M618.4,365.95h-1.7249999999999999M618.4,360.70h-1.0499999999999998M618.4,355.45h-1.0499999999999998M618.4,350.20h-1.0499999999999998M618.4,344.96h-1.0499999999999998M618.4,339.71h-1.7249999999999999M618.4,334.46h-1.0499999999999998M618.4,329.21h-1.0499999999999998M618.4,323.96h-1.0499999999999998M618.4,318.71h-1.0499999999999998M618.4,313.47h-1.7249999999999999M618.4,308.22h-1.0499999999999998M618.4,302.97h-1.0499999999999998M618.4,297.72h-1.0499999999999998M618.4,292.47h-1.0499999999999998M618.4,287.22h-1.7249999999999999M618.4,281.98h-1.0499999999999998M618.4,276.73h-1.0499999999999998M618.4,271.48h-1.0499999999999998M618.4,266.23h-1.0499999999999998M618.4,260.98h-1.7249999999999999M618.4,255.73h-1.0499999999999998M618.4,250.49h-1.0499999999999998M618.4,245.24h-1.0499999999999998M618.4,239.99h-1.0499999999999998M618.4,234.74h-1.7249999999999999M618.4,229.49h-1.0499999999999998M618.4,224.24h-1.0499999999999998M618.4,219.00h-1.0499999999999998M618.4,213.75h-1.0499999999999998M618.4,208.50h-1.7249999999999999" stroke="#000" stroke-opacity="0.35" stroke-width="0.8" fill="none"/>
<rect x="363.65" y="208.5" width="254.75" height="157.45" fill="none" stroke="#000" stroke-width="1.2"/>
<g clip-path="url(#c4)" fill="none" stroke-width="1.05" stroke-linejoin="round">
<polyline stroke="#0000ff" points="363.65,339.04 365.77,339.04 367.90,339.04 370.02,339.04 372.14,339.04 374.26,339.05 376.39,339.06 378.51,339.06 380.63,339.07 382.76,339.08 384.88,339.09 387.00,339.10 389.12,339.11 391.25,339.12 393.37,339.13 395.49,339.14 397.62,339.15 399.74,339.17 401.86,339.18 403.99,339.19 406.11,339.21 408.23,339.22 410.35,339.23 412.48,339.25 414.60,339.26 416.72,339.28 418.85,339.29 420.97,339.31 423.09,339.32 425.21,339.34 427.34,339.35 429.46,339.36 431.58,339.38 433.71,339.39 435.83,339.41 437.95,339.42 440.07,339.44 442.20,339.45 444.32,339.46 446.44,339.47 448.57,339.49 450.69,339.50 452.81,339.51 454.94,339.52 457.06,339.53 459.18,339.54 461.30,339.55 463.43,339.56 465.55,339.57 467.67,339.58 469.80,339.59 471.92,339.60 474.04,339.61 476.16,339.61 478.29,339.62 480.41,339.63 482.53,339.63 484.66,339.64 486.78,339.64 488.90,339.64 491.02,339.65 493.15,339.65 495.27,339.65 497.39,339.65 499.52,339.66 501.64,339.66 503.76,339.66 505.89,339.65 508.01,339.65 510.13,339.65 512.25,339.65 514.38,339.65 516.50,339.64 518.62,339.64 520.75,339.64 522.87,339.63 524.99,339.63 527.11,339.62 529.24,339.61 531.36,339.61 533.48,339.60 535.61,339.59 537.73,339.59 539.85,339.58 541.97,339.57 544.10,339.56 546.22,339.55 548.34,339.54 550.47,339.53 552.59,339.52 554.71,339.51 556.84,339.50 558.96,339.49 561.08,339.48 563.20,339.47 565.33,339.46 567.45,339.45 569.57,339.44 571.70,339.43 573.82,339.42 575.94,339.41 578.06,339.40 580.19,339.39 582.31,339.38 584.43,339.37 586.56,339.36 588.68,339.35 590.80,339.34 592.92,339.33 595.05,339.32 597.17,339.32 599.29,339.31 601.42,339.30 603.54,339.30 605.66,339.29 607.79,339.29 609.91,339.28 612.03,339.28 614.15,339.28 616.28,339.28 618.40,339.28"/>
<polyline stroke="#e39c24" points="363.65,326.92 365.77,326.93 367.90,326.93 370.02,326.93 372.14,326.94 374.26,326.95 376.39,326.96 378.51,326.97 380.63,326.99 382.76,327.00 384.88,327.02 387.00,327.04 389.12,327.06 391.25,327.08 393.37,327.10 395.49,327.13 397.62,327.15 399.74,327.18 401.86,327.21 403.99,327.24 406.11,327.27 408.23,327.30 410.35,327.33 412.48,327.37 414.60,327.40 416.72,327.44 418.85,327.47 420.97,327.51 423.09,327.55 425.21,327.59 427.34,327.63 429.46,327.67 431.58,327.71 433.71,327.75 435.83,327.79 437.95,327.83 440.07,327.88 442.20,327.92 444.32,327.97 446.44,328.01 448.57,328.06 450.69,328.10 452.81,328.15 454.94,328.19 457.06,328.24 459.18,328.29 461.30,328.33 463.43,328.38 465.55,328.43 467.67,328.47 469.80,328.52 471.92,328.57 474.04,328.61 476.16,328.66 478.29,328.71 480.41,328.75 482.53,328.80 484.66,328.85 486.78,328.89 488.90,328.94 491.02,328.99 493.15,329.03 495.27,329.08 497.39,329.12 499.52,329.17 501.64,329.21 503.76,329.25 505.89,329.30 508.01,329.34 510.13,329.38 512.25,329.43 514.38,329.47 516.50,329.51 518.62,329.55 520.75,329.59 522.87,329.63 524.99,329.67 527.11,329.71 529.24,329.75 531.36,329.78 533.48,329.82 535.61,329.86 537.73,329.89 539.85,329.92 541.97,329.96 544.10,329.99 546.22,330.02 548.34,330.06 550.47,330.09 552.59,330.12 554.71,330.15 556.84,330.17 558.96,330.20 561.08,330.23 563.20,330.25 565.33,330.28 567.45,330.30 569.57,330.33 571.70,330.35 573.82,330.37 575.94,330.39 578.06,330.41 580.19,330.43 582.31,330.45 584.43,330.46 586.56,330.48 588.68,330.49 590.80,330.51 592.92,330.52 595.05,330.53 597.17,330.54 599.29,330.55 601.42,330.56 603.54,330.57 605.66,330.58 607.79,330.58 609.91,330.59 612.03,330.59 614.15,330.60 616.28,330.60 618.40,330.60"/>
<polyline stroke="#8fb032" points="363.65,296.22 365.77,296.22 367.90,296.23 370.02,296.24 372.14,296.26 374.26,296.29 376.39,296.32 378.51,296.35 380.63,296.40 382.76,296.44 384.88,296.49 387.00,296.55 389.12,296.61 391.25,296.67 393.37,296.74 395.49,296.82 397.62,296.89 399.74,296.98 401.86,297.06 403.99,297.15 406.11,297.24 408.23,297.34 410.35,297.44 412.48,297.54 414.60,297.65 416.72,297.76 418.85,297.87 420.97,297.98 423.09,298.10 425.21,298.22 427.34,298.34 429.46,298.47 431.58,298.60 433.71,298.73 435.83,298.86 437.95,298.99 440.07,299.13 442.20,299.27 444.32,299.41 446.44,299.55 448.57,299.69 450.69,299.84 452.81,299.98 454.94,300.13 457.06,300.28 459.18,300.43 461.30,300.58 463.43,300.73 465.55,300.88 467.67,301.04 469.80,301.19 471.92,301.35 474.04,301.50 476.16,301.66 478.29,301.82 480.41,301.97 482.53,302.13 484.66,302.29 486.78,302.45 488.90,302.60 491.02,302.76 493.15,302.92 495.27,303.08 497.39,303.24 499.52,303.39 501.64,303.55 503.76,303.71 505.89,303.87 508.01,304.02 510.13,304.18 512.25,304.33 514.38,304.49 516.50,304.64 518.62,304.80 520.75,304.95 522.87,305.10 524.99,305.25 527.11,305.40 529.24,305.55 531.36,305.70 533.48,305.85 535.61,306.00 537.73,306.14 539.85,306.29 541.97,306.43 544.10,306.57 546.22,306.72 548.34,306.86 550.47,306.99 552.59,307.13 554.71,307.27 556.84,307.40 558.96,307.54 561.08,307.67 563.20,307.80 565.33,307.93 567.45,308.06 569.57,308.18 571.70,308.31 573.82,308.43 575.94,308.56 578.06,308.68 580.19,308.79 582.31,308.91 584.43,309.03 586.56,309.14 588.68,309.26 590.80,309.37 592.92,309.48 595.05,309.59 597.17,309.69 599.29,309.80 601.42,309.90 603.54,310.00 605.66,310.10 607.79,310.20 609.91,310.30 612.03,310.39 614.15,310.49 616.28,310.58 618.40,310.67"/>
<polyline stroke="#ff0000" points="363.65,248.95 365.77,248.96 367.90,248.98 370.02,249.01 372.14,249.06 374.26,249.12 376.39,249.19 378.51,249.27 380.63,249.36 382.76,249.47 384.88,249.58 387.00,249.71 389.12,249.85 391.25,250.00 393.37,250.15 395.49,250.32 397.62,250.49 399.74,250.68 401.86,250.87 403.99,251.07 406.11,251.28 408.23,251.50 410.35,251.72 412.48,251.96 414.60,252.20 416.72,252.44 418.85,252.69 420.97,252.95 423.09,253.22 425.21,253.49 427.34,253.76 429.46,254.05 431.58,254.33 433.71,254.62 435.83,254.92 437.95,255.22 440.07,255.53 442.20,255.84 444.32,256.15 446.44,256.47 448.57,256.79 450.69,257.11 452.81,257.43 454.94,257.76 457.06,258.10 459.18,258.43 461.30,258.77 463.43,259.11 465.55,259.45 467.67,259.79 469.80,260.14 471.92,260.48 474.04,260.83 476.16,261.18 478.29,261.53 480.41,261.88 482.53,262.23 484.66,262.58 486.78,262.93 488.90,263.28 491.02,263.64 493.15,263.99 495.27,264.34 497.39,264.70 499.52,265.05 501.64,265.40 503.76,265.75 505.89,266.10 508.01,266.45 510.13,266.80 512.25,267.15 514.38,267.50 516.50,267.84 518.62,268.19 520.75,268.53 522.87,268.87 524.99,269.21 527.11,269.55 529.24,269.89 531.36,270.23 533.48,270.56 535.61,270.89 537.73,271.22 539.85,271.55 541.97,271.88 544.10,272.21 546.22,272.53 548.34,272.85 550.47,273.17 552.59,273.49 554.71,273.80 556.84,274.11 558.96,274.42 561.08,274.73 563.20,275.04 565.33,275.34 567.45,275.64 569.57,275.94 571.70,276.24 573.82,276.54 575.94,276.83 578.06,277.12 580.19,277.41 582.31,277.69 584.43,277.98 586.56,278.26 588.68,278.54 590.80,278.82 592.92,279.09 595.05,279.37 597.17,279.64 599.29,279.91 601.42,280.17 603.54,280.44 605.66,280.70 607.79,280.97 609.91,281.23 612.03,281.49 614.15,281.75 616.28,282.00 618.40,282.26"/>
</g>
<g font-size="7.0" fill="#1a1a1a">
<text x="363.65" y="373.75" transform="rotate(0.05 363.65 373.75)" text-anchor="middle">0</text>
<text x="427.34" y="373.75" transform="rotate(0.05 427.34 373.75)" text-anchor="middle">1</text>
<text x="491.02" y="373.75" transform="rotate(0.05 491.02 373.75)" text-anchor="middle">2</text>
<text x="554.71" y="373.75" transform="rotate(0.05 554.71 373.75)" text-anchor="middle">3</text>
<text x="618.40" y="373.75" transform="rotate(0.05 618.40 373.75)" text-anchor="middle">4</text>
<text x="361.80" y="368.60" transform="rotate(0.05 361.80 368.60)" text-anchor="end">0.00</text>
<text x="361.80" y="342.36" transform="rotate(0.05 361.80 342.36)" text-anchor="end">0.05</text>
<text x="361.80" y="316.12" transform="rotate(0.05 361.80 316.12)" text-anchor="end">0.10</text>
<text x="361.80" y="289.87" transform="rotate(0.05 361.80 289.87)" text-anchor="end">0.15</text>
<text x="361.80" y="263.63" transform="rotate(0.05 361.80 263.63)" text-anchor="end">0.20</text>
<text x="361.80" y="237.39" transform="rotate(0.05 361.80 237.39)" text-anchor="end">0.25</text>
<text x="361.80" y="211.15" transform="rotate(0.05 361.80 211.15)" text-anchor="end">0.30</text>
</g>
<text x="491.02" y="385.90" transform="rotate(0.05 491.02 385.90)" text-anchor="middle" font-size="7.7" fill="#111">k(GeV)</text>
<text transform="translate(343.4,287.40) rotate(-89.95)" text-anchor="middle" font-size="7.85" fill="#111">−Im(<tspan font-style="italic">ω</tspan>)(GeV)</text>
<line x1="98" y1="43.3" x2="108" y2="43.3" stroke="#0000ff" stroke-width="1.15"/>
<text x="112" y="45.55" transform="rotate(0.05 112 45.55)" font-size="7.15" fill="#1a1a1a"><tspan font-style="italic">μ</tspan>=0 MeV</text>
<line x1="98" y1="54.9" x2="108" y2="54.9" stroke="#e39c24" stroke-width="1.15"/>
<text x="112" y="57.15" transform="rotate(0.05 112 57.15)" font-size="7.15" fill="#1a1a1a"><tspan font-style="italic">μ</tspan>=150 MeV</text>
<line x1="98" y1="66.7" x2="108" y2="66.7" stroke="#8fb032" stroke-width="1.15"/>
<text x="112" y="68.95" transform="rotate(0.05 112 68.95)" font-size="7.15" fill="#1a1a1a"><tspan font-style="italic">μ</tspan>=300 MeV</text>
<line x1="98" y1="78.6" x2="108" y2="78.6" stroke="#ff0000" stroke-width="1.15"/>
<text x="112" y="80.85" transform="rotate(0.05 112 80.85)" font-size="7.15" fill="#1a1a1a"><tspan font-style="italic">μ</tspan>=450 MeV</text>
</svg>
</body></html>
